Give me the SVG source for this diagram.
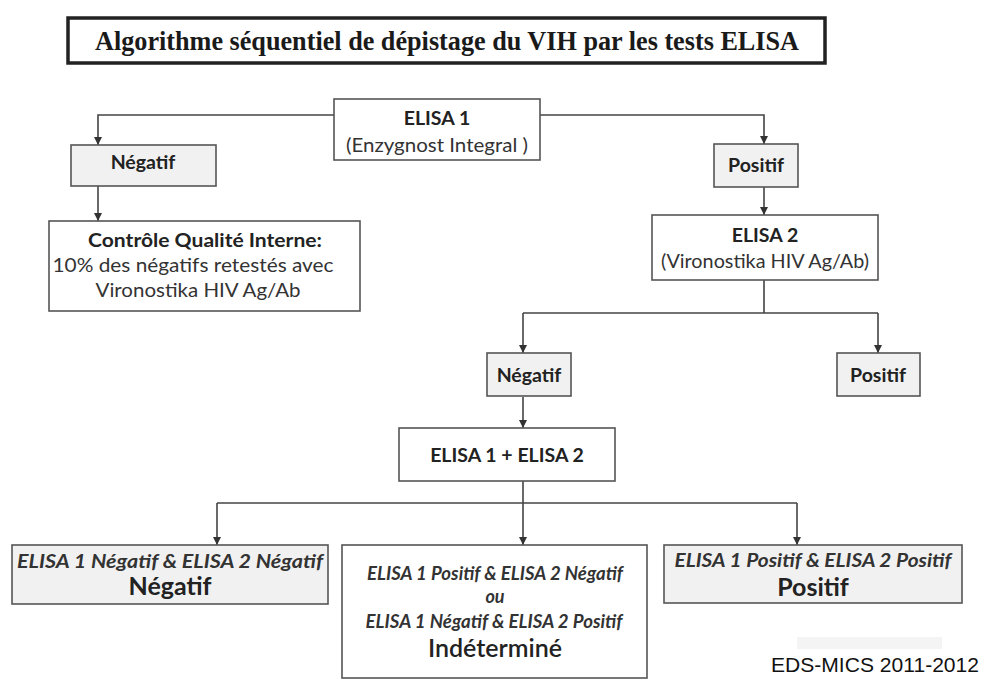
<svg xmlns="http://www.w3.org/2000/svg" width="983" height="680" viewBox="0 0 983 680">
  <defs>
    <marker id="arrow" viewBox="0 0 10 10" refX="10" refY="5" markerWidth="8" markerHeight="8" markerUnits="userSpaceOnUse" orient="auto">
      <path d="M0,0 L10,5 L0,10 Z" fill="#333"/>
    </marker>
    <style>
      .box { fill: #ffffff; stroke: #555555; stroke-width: 1.6; }
      .grey { fill: #f1f1f1; stroke: #555555; stroke-width: 1.6; }
      .link { fill: none; stroke: #444444; stroke-width: 1.6; }
      .arr { marker-end: url(#arrow); }
      text { font-family: Lato, "Open Sans", "Noto Sans", sans-serif; fill: #222222; text-anchor: middle; }
      .b { font-weight: bold; font-size: 19.5px; }
      .r { font-size: 20px; fill: #333333; }
      .it { font-style: italic; font-weight: bold; font-size: 18px; fill: #333333; }
      .big { font-size: 25px; font-weight: bold; }
    </style>
  </defs>

  <rect width="983" height="680" fill="#ffffff"/>

  <!-- title -->
  <g id="title">
    <rect x="68" y="18" width="757" height="45" fill="#ffffff" stroke="#222222" stroke-width="3.5"/>
    <text x="447" y="50" style="font-family:'Liberation Serif','DejaVu Serif',serif;font-weight:bold;font-size:28px;fill:#1a1a1a" textLength="704" lengthAdjust="spacingAndGlyphs">Algorithme séquentiel de dépistage du VIH par les tests ELISA</text>
  </g>

  <!-- connectors -->
  <g id="connectors">
    <path class="link arr" d="M334,115 H98 V145"/>
    <path class="link arr" d="M540,115 H764 V144"/>
    <path class="link arr" d="M98,186 V221"/>
    <path class="link arr" d="M764,187 V215"/>
    <path class="link" d="M764,280 V313 M523,313 H878"/>
    <path class="link arr" d="M523,313 V353"/>
    <path class="link arr" d="M878,313 V353"/>
    <path class="link arr" d="M523,397 V428"/>
    <path class="link arr" d="M523,481 V545"/>
    <path class="link" d="M217,503 H797"/>
    <path class="link arr" d="M217,503 V545"/>
    <path class="link arr" d="M797,503 V545"/>
  </g>

  <g id="elisa1">
    <rect class="box" x="334" y="99" width="206" height="61"/>
    <text class="b" x="437" y="125">ELISA 1</text>
    <text class="r" x="437" y="152" textLength="182" lengthAdjust="spacingAndGlyphs">(Enzygnost Integral )</text>
  </g>

  <g id="negatif1">
    <rect class="grey" x="71" y="145" width="145" height="41"/>
    <text class="b" x="143" y="169">Négatif</text>
  </g>

  <g id="controle">
    <rect class="box" x="49" y="221" width="311" height="90"/>
    <text class="b" x="205" y="247" textLength="234" lengthAdjust="spacingAndGlyphs">Contrôle Qualité  Interne:</text>
    <text class="r" x="193" y="272" textLength="281" lengthAdjust="spacingAndGlyphs">10% des négatifs retestés avec</text>
    <text class="r" x="198" y="297" textLength="205" lengthAdjust="spacingAndGlyphs">Vironostika HIV Ag/Ab</text>
  </g>

  <g id="positif1">
    <rect class="grey" x="714" y="144" width="84" height="43"/>
    <text class="b" x="756" y="172">Positif</text>
  </g>

  <g id="elisa2">
    <rect class="box" x="652" y="215" width="226" height="65"/>
    <text class="b" x="765" y="242">ELISA 2</text>
    <text class="r" x="765" y="268" textLength="208" lengthAdjust="spacingAndGlyphs">(Vironostika HIV Ag/Ab)</text>
  </g>

  <g id="negatif2">
    <rect class="grey" x="487" y="353" width="84" height="43"/>
    <text class="b" x="529" y="382">Négatif</text>
  </g>

  <g id="positif2">
    <rect class="grey" x="837" y="353" width="83" height="43"/>
    <text class="b" x="878" y="382">Positif</text>
  </g>

  <g id="elisa12">
    <rect class="box" x="399" y="428" width="216" height="53"/>
    <text class="b" x="507" y="462">ELISA 1 + ELISA 2</text>
  </g>

  <g id="result-negatif">
    <rect class="grey" x="12" y="545" width="316" height="59"/>
    <text class="it" x="170" y="568" textLength="306" lengthAdjust="spacingAndGlyphs">ELISA 1 Négatif  &amp; ELISA 2 Négatif</text>
    <text class="big" x="170" y="595">Négatif</text>
  </g>

  <g id="result-indetermine">
    <rect class="box" x="342" y="545" width="305" height="133"/>
    <text class="it" x="495" y="580" textLength="256" lengthAdjust="spacingAndGlyphs">ELISA 1 Positif &amp; ELISA 2 Négatif</text>
    <text class="it" x="495" y="603">ou</text>
    <text class="it" x="494" y="628" textLength="257" lengthAdjust="spacingAndGlyphs">ELISA 1 Négatif &amp; ELISA 2 Positif</text>
    <text x="495" y="657" style="font-size:25px;font-weight:600">Indéterminé</text>
  </g>

  <g id="result-positif">
    <rect class="grey" x="664" y="545" width="298" height="58"/>
    <text class="it" x="813" y="567" textLength="277" lengthAdjust="spacingAndGlyphs">ELISA 1 Positif &amp; ELISA 2 Positif</text>
    <text class="big" x="813" y="596">Positif</text>
  </g>

  <!-- footer -->
  <rect x="797" y="637" width="145" height="12" fill="#f4f4f4"/>
  <text x="875" y="672" style="font-family:'Liberation Sans',Arial,sans-serif;font-size:21px;fill:#111111" textLength="208" lengthAdjust="spacingAndGlyphs">EDS-MICS 2011-2012</text>
</svg>
